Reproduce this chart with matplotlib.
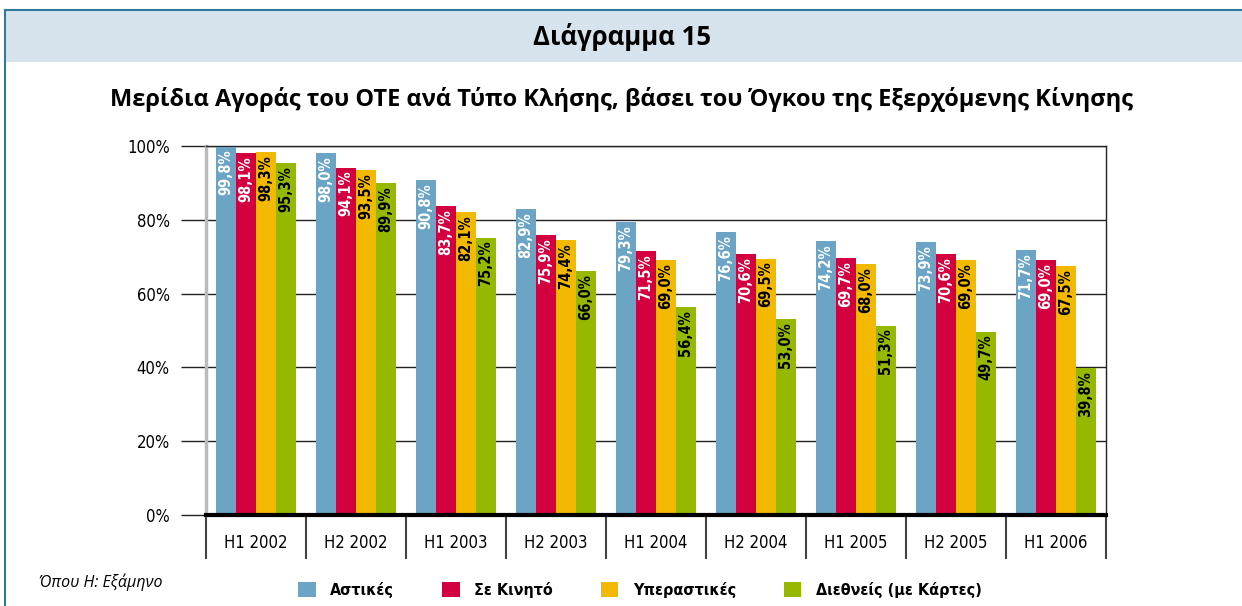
import numpy as np
import matplotlib
matplotlib.use("Agg")
import matplotlib.pyplot as plt
from matplotlib import font_manager
from matplotlib.patches import Rectangle
from matplotlib.lines import Line2D

periods = ["H1 2002", "H2 2002", "H1 2003", "H2 2003", "H1 2004",
           "H2 2004", "H1 2005", "H2 2005", "H1 2006"]
series_names = ["Αστικές", "Σε Κινητό", "Υπεραστικές", "Διεθνείς (με Κάρτες)"]
astikes = [99.8, 98.0, 90.8, 82.9, 79.3, 76.6, 74.2, 73.9, 71.7]
kinito = [98.1, 94.1, 83.7, 75.9, 71.5, 70.6, 69.7, 70.6, 69.0]
yperastikes = [98.3, 93.5, 82.1, 74.4, 69.0, 69.5, 68.0, 69.0, 67.5]
diethneis = [95.3, 89.9, 75.2, 66.0, 56.4, 53.0, 51.3, 49.7, 39.8]
yticks = [0, 20, 40, 60, 80, 100]

colors = ["#6ba4c4", "#d2003f", "#f2b900", "#96b800"]
label_colors = ["white", "white", "black", "black"]

installed = {f.name for f in font_manager.fontManager.ttflist}
narrow = "Liberation Sans Narrow" if "Liberation Sans Narrow" in installed else "DejaVu Sans"
narrow_kw = {"family": narrow}
if narrow == "DejaVu Sans":
    narrow_kw["stretch"] = "condensed"
head_font = "Open Sans"

W, H = 1242, 606
fig = plt.figure(figsize=(W / 100, H / 100), dpi=100)

def fx(px):
    return px / W

def fy(py):
    return 1 - py / H

# frame and header band
fig.patches.append(Rectangle((fx(5), fy(62)), 1, fy(10) - fy(62), transform=fig.transFigure,
                             facecolor="#d7e3ec", edgecolor="none", zorder=0))
fig.lines.append(Line2D([fx(5), 1], [fy(10), fy(10)], transform=fig.transFigure,
                        color="#2f7b9e", lw=1.5))
fig.lines.append(Line2D([fx(5), fx(5)], [fy(10), 0], transform=fig.transFigure,
                        color="#2f7b9e", lw=1.5))

fig.text(fx(622), fy(37), "Διάγραμμα 15", ha="center", va="center",
         fontsize=18.5, fontweight="bold", family=head_font)
fig.text(fx(622), fy(99), "Μερίδια Αγοράς του ΟΤΕ ανά Τύπο Κλήσης, βάσει του Όγκου της Εξερχόμενης Κίνησης",
         ha="center", va="center", fontsize=17, fontweight="bold", family=head_font)
fig.text(fx(39), fy(582), "Όπου Η: Εξάμηνο", ha="left", va="center",
         fontsize=11.5, style="italic", family=head_font)

ax = fig.add_axes([fx(206), fy(515), fx(1106) - fx(206), fy(146) - fy(515)])
data = [astikes, kinito, yperastikes, diethneis]
x = np.arange(len(periods))
bw = 0.2
for j, vals in enumerate(data):
    pos = x + 0.1 + bw * j + bw / 2
    ax.bar(pos, vals, width=bw, color=colors[j], zorder=3, label=series_names[j])
    for p, v in zip(pos, vals):
        ax.text(p, v - 0.8, f"{v:.1f}%".replace(".", ","), rotation=90, ha="center", va="top",
                color=label_colors[j], fontsize=10.5, fontweight="bold", zorder=4, **narrow_kw)

ax.set_xlim(0, len(periods))
ax.set_ylim(0, 100)
ax.set_yticks(yticks)
ax.set_yticklabels([f"{t}%" for t in yticks], fontsize=12, **narrow_kw)
for t in yticks[1:]:
    ax.axhline(t, color="#222222", lw=1, zorder=1)
ax.tick_params(axis="y", length=18, width=1, color="#222222", pad=8)

ax.set_xticks(np.arange(len(periods) + 1))
ax.set_xticklabels([])
ax.set_xticks(x + 0.5, minor=True)
ax.set_xticklabels(periods, minor=True, fontsize=12, **narrow_kw)
ax.tick_params(axis="x", which="major", length=32, width=1.5, color="#444444")
ax.tick_params(axis="x", which="minor", length=0, pad=14)

for s in ["top", "right"]:
    ax.spines[s].set_color("#222222")
    ax.spines[s].set_linewidth(1)
ax.spines["left"].set_color("#bbbbbb")
ax.spines["left"].set_linewidth(2.5)
ax.spines["bottom"].set_color("black")
ax.spines["bottom"].set_linewidth(3)
ax.spines["bottom"].set_zorder(5)

handles, labels = ax.get_legend_handles_labels()
leg = fig.legend(handles, labels, loc="center", bbox_to_anchor=(fx(640), fy(590)), ncol=4,
                 frameon=False, handlelength=1.1, handleheight=1.1, columnspacing=3.0,
                 handletextpad=0.9, prop={"size": 11.5, "weight": "bold", **narrow_kw})

fig.savefig("out.png", dpi=100)
